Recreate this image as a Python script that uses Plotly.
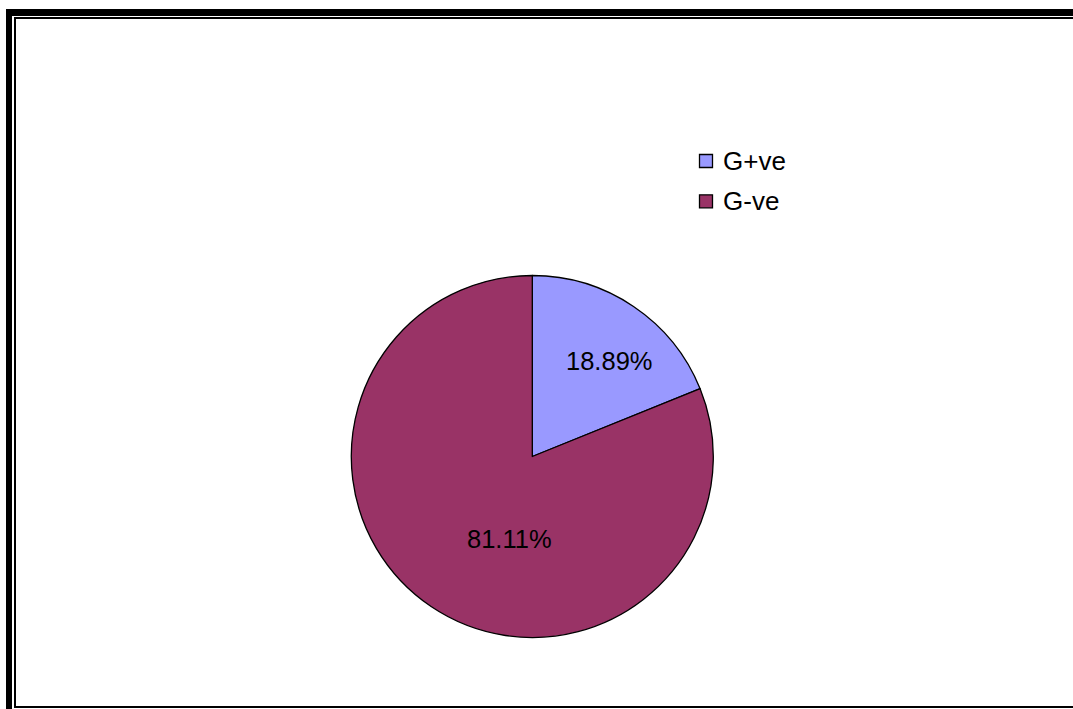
import plotly.graph_objects as go

# Data
categories = ["G+ve", "G-ve"]
percentages = [18.89, 81.11]
slice_colors = ["#9999FF", "#993366"]

W, H = 1073, 709
FONT = "Arial, 'Liberation Sans', sans-serif"


def px_x(x):
    return x / W


def px_y(y):
    return 1 - y / H


# Pie placement (pixels)
cx, cy, r = 532.3, 456.5, 181.0

fig = go.Figure(
    go.Pie(
        labels=categories,
        values=percentages,
        sort=False,
        direction="clockwise",
        rotation=0,
        marker=dict(colors=slice_colors, line=dict(color="black", width=1.3)),
        textinfo="none",
        hoverinfo="label+percent",
        showlegend=False,
        domain=dict(
            x=[px_x(cx - r), px_x(cx + r)],
            y=[px_y(cy + r), px_y(cy - r)],
        ),
    )
)

annotations = []
shapes = []

# Slice value labels
label_pos = [(609.8, 360.5), (509.5, 538.5)]
for val, (lx, ly) in zip(percentages, label_pos):
    annotations.append(dict(
        x=px_x(lx), y=px_y(ly), xref="paper", yref="paper",
        text=f"{val:.2f}%", showarrow=False,
        xanchor="center", yanchor="middle",
        font=dict(family=FONT, size=25.5, color="black"),
    ))

# Legend
legend_rows = [161.0, 201.3]
for name, col, ly in zip(categories, slice_colors, legend_rows):
    shapes.append(dict(
        type="rect", xref="paper", yref="paper",
        x0=px_x(699.5), x1=px_x(712.5), y0=px_y(ly + 6.5), y1=px_y(ly - 6.5),
        fillcolor=col, line=dict(color="black", width=1.3),
    ))
    annotations.append(dict(
        x=px_x(721), y=px_y(ly), xref="paper", yref="paper",
        text=name, showarrow=False, xanchor="left", yanchor="middle",
        font=dict(family=FONT, size=26, color="black"),
    ))

# Frame: thick outer border plus thin inner border
frame = [
    (6, 9, 12, 709),      # thick left
    (6, 9, 1073, 16),     # thick top
    (14, 17, 16, 708),    # thin left
    (14, 17, 1073, 19),   # thin top
    (14, 706, 1073, 708), # thin bottom
]
for x0, y0, x1, y1 in frame:
    shapes.append(dict(
        type="rect", xref="paper", yref="paper",
        x0=px_x(x0), x1=px_x(x1), y0=px_y(y1), y1=px_y(y0),
        fillcolor="black", line=dict(width=0), layer="above",
    ))

fig.update_layout(
    width=W, height=H,
    margin=dict(l=0, r=0, t=0, b=0),
    paper_bgcolor="white", plot_bgcolor="white",
    annotations=annotations, shapes=shapes,
    showlegend=False,
)

fig.write_html("out.html")
